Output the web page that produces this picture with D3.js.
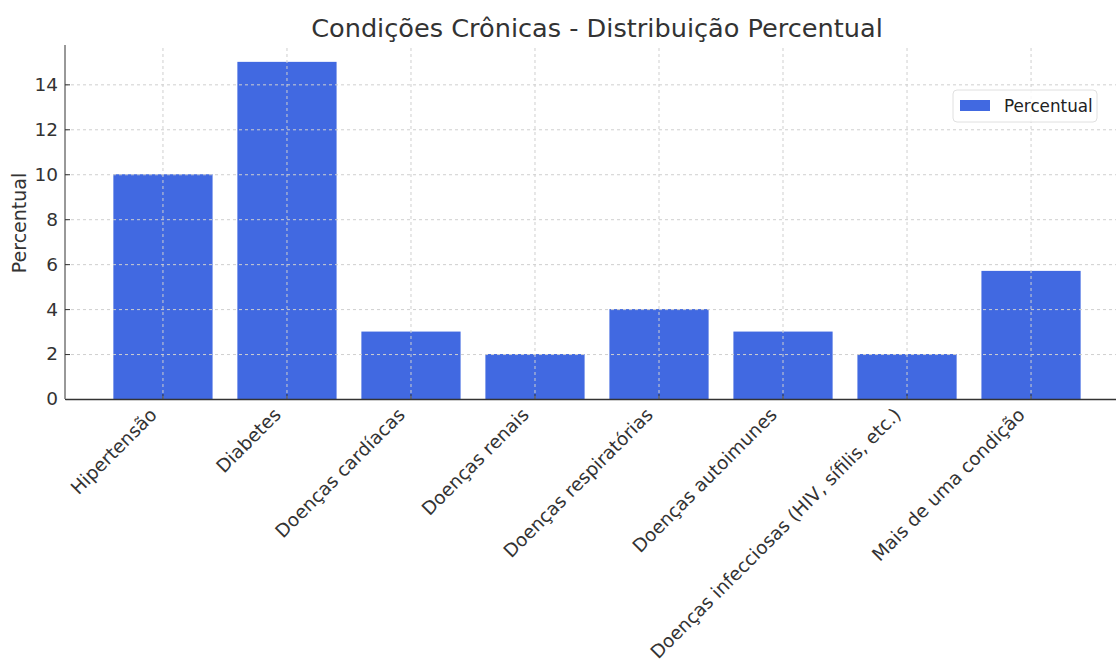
<!DOCTYPE html>
<html lang='pt'>
<head>
<meta charset='UTF-8'>
<title>Condições Crônicas</title>
<script src='https://cdn.jsdelivr.net/npm/d3@7'></script>
<style>
    body { margin: 0; background: #fff; font-family: 'DejaVu Sans', sans-serif; }
    .grid line { stroke: #cfcfcf; stroke-dasharray: 3,3; stroke-width: 1; }
    .grid path { display: none; }
    .axis path, .axis line { stroke: #333; }
    .axis text { fill: #333; font-size: 18.5px; font-family: 'DejaVu Sans', sans-serif; }
</style>
</head>
<body>
<script>
    // Data
    const categories = ['Hipertensão', 'Diabetes', 'Doenças cardíacas', 'Doenças renais',
        'Doenças respiratórias', 'Doenças autoimunes', 'Doenças infecciosas (HIV, sífilis, etc.)',
        'Mais de uma condição'];
    const values = [10, 15, 3, 2, 4, 3, 2, 5.7];
    const yTicks = [0, 2, 4, 6, 8, 10, 12, 14];

    const W = 1116, H = 664;
    const plot = { left: 65, right: 1129, top: 45, bottom: 399 };
    const barColor = '#4169e1';

    const svg = d3.select('body').append('svg')
        .attr('width', W)
        .attr('height', H);

    const x = d3.scaleBand()
        .domain(categories)
        .range([plot.left, plot.right])
        .paddingInner(0.2)
        .paddingOuter(0.39);

    const y = d3.scaleLinear()
        .domain([0, 15.75])
        .range([plot.bottom, plot.top]);

    // bars
    svg.append('g')
        .selectAll('rect')
        .data(values)
        .join('rect')
        .attr('x', (d, i) => x(categories[i]))
        .attr('y', d => y(d))
        .attr('width', x.bandwidth())
        .attr('height', d => y(0) - y(d))
        .attr('fill', barColor);

    // grid on top of bars, like the original
    svg.append('g')
        .attr('class', 'grid')
        .attr('transform', `translate(0, ${plot.bottom})`)
        .call(d3.axisBottom(x).tickSize(-(plot.bottom - plot.top)).tickFormat(''));

    svg.append('g')
        .attr('class', 'grid')
        .attr('transform', `translate(${plot.left}, 0)`)
        .call(d3.axisLeft(y).tickValues(yTicks).tickSize(-(plot.right - plot.left)).tickFormat(''));

    // axes, ticks pointing inwards
    const yAxis = svg.append('g')
        .attr('class', 'axis')
        .attr('transform', `translate(${plot.left}, 0)`)
        .call(d3.axisLeft(y).tickValues(yTicks).tickSizeInner(-5).tickSizeOuter(0).tickPadding(7));
    yAxis.select('.domain').attr('d', `M0,${plot.top}V${plot.bottom}`);

    const xAxis = svg.append('g')
        .attr('class', 'axis')
        .attr('transform', `translate(0, ${plot.bottom})`)
        .call(d3.axisBottom(x).tickSizeInner(-5).tickSizeOuter(0));
    xAxis.select('.domain').attr('stroke-width', 1.3);
    xAxis.selectAll('text')
        .attr('text-anchor', 'end')
        .attr('y', 0)
        .attr('dy', 0)
        .attr('transform', 'translate(-5, 17) rotate(-45)');

    // title and axis label
    svg.append('text')
        .attr('x', (plot.left + plot.right) / 2)
        .attr('y', 37)
        .attr('text-anchor', 'middle')
        .attr('fill', '#333')
        .style('font-size', '25.6px')
        .text('Condições Crônicas - Distribuição Percentual');

    svg.append('text')
        .attr('transform', `translate(26, ${(plot.top + plot.bottom) / 2 + 1}) rotate(-90)`)
        .attr('text-anchor', 'middle')
        .attr('fill', '#333')
        .style('font-size', '19px')
        .text('Percentual');

    // legend
    const legend = svg.append('g').attr('transform', 'translate(953, 90)');
    legend.append('rect')
        .attr('width', 144).attr('height', 32).attr('rx', 4)
        .attr('fill', '#fff').attr('fill-opacity', 0.85)
        .attr('stroke', '#e0e0e0');
    legend.append('rect')
        .attr('x', 7).attr('y', 10).attr('width', 30).attr('height', 11)
        .attr('fill', barColor);
    legend.append('text')
        .attr('x', 51).attr('y', 22)
        .attr('fill', '#222')
        .style('font-size', '16.8px')
        .text('Percentual');
</script>
</body>
</html>
